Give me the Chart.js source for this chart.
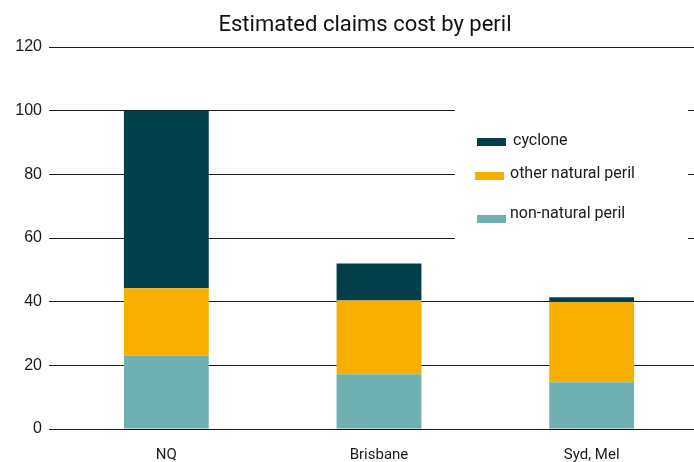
<!DOCTYPE html>
<html>
<head>
<meta charset="utf-8">
<script src="https://cdn.jsdelivr.net/npm/chart.js@4"></script>
<style>
html,body{margin:0;padding:0;background:#fff;overflow:hidden;width:694px;height:462px;}
canvas{display:block;}
</style>
</head>
<body>
<canvas id="c" width="698" height="462"></canvas>
<script>
const title = 'Estimated claims cost by peril';
const categories = ['NQ', 'Brisbane', 'Syd, Mel'];
const nonNatural = [23, 17.2, 14.7];
const otherNatural = [21.2, 23.2, 25.1];
const cyclone = [55.8, 11.6, 1.6];
const yTicks = [0, 20, 40, 60, 80, 100, 120];

const C_CYC = '#033F4A', C_OTH = '#F9AF00', C_NON = '#6FB0B0';
const TEXT = '#1a1a1a';
const FONT = 'Roboto';

const legendPlugin = {
  id: 'boxLegend',
  afterDraw(chart) {
    const ctx = chart.ctx;
    ctx.save();
    ctx.fillStyle = '#fff';
    ctx.fillRect(455, 100, 233, 150);
    const ds = chart.data.datasets;
    const items = [
      {d: ds[2], sx: 477, sy: 138, tx: 513, ty: 141},
      {d: ds[1], sx: 475, sy: 172, tx: 510, ty: 174},
      {d: ds[0], sx: 477, sy: 215, tx: 510, ty: 214}
    ];
    ctx.font = '16px ' + FONT;
    ctx.textBaseline = 'middle';
    ctx.textAlign = 'left';
    items.forEach(it => {
      ctx.fillStyle = it.d.backgroundColor;
      ctx.fillRect(it.sx, it.sy, 29, 8);
      ctx.fillStyle = TEXT;
      ctx.fillText(it.d.label, it.tx, it.ty);
    });
    ctx.font = '22px ' + FONT;
    ctx.textAlign = 'center';
    ctx.fillStyle = '#111';
    ctx.fillText(title, 365, 25);
    ctx.restore();
  }
};

new Chart(document.getElementById('c'), {
  type: 'bar',
  data: {
    labels: categories,
    datasets: [
      {label: 'non-natural peril', data: nonNatural, backgroundColor: C_NON},
      {label: 'other natural peril', data: otherNatural, backgroundColor: C_OTH},
      {label: 'cyclone', data: cyclone, backgroundColor: C_CYC}
    ]
  },
  options: {
    responsive: false,
    animation: false,
    layout: {padding: {top: 47, left: 0, right: 0, bottom: 0}},
    plugins: {legend: {display: false}, title: {display: false}, tooltip: {enabled: false}},
    datasets: {bar: {barPercentage: 0.399, categoryPercentage: 1}},
    scales: {
      x: {
        stacked: true,
        grid: {display: false, drawTicks: false},
        border: {display: false},
        ticks: {color: TEXT, font: {family: FONT, size: 15}, padding: 17},
        afterFit(s) { s.height = 33; }
      },
      y: {
        stacked: true,
        z: 1,
        min: 0, max: 120,
        afterBuildTicks(s) { s.ticks = yTicks.map(v => ({value: v})); },
        grid: {color: '#1a1a1a', lineWidth: 1, tickLength: 11, drawTicks: true},
        border: {display: false},
        ticks: {color: TEXT, font: {family: 'Liberation Sans', size: 16}, padding: 7},
        afterFit(s) { s.width = 60; }
      }
    }
  },
  plugins: [legendPlugin]
});
</script>
</body>
</html>
